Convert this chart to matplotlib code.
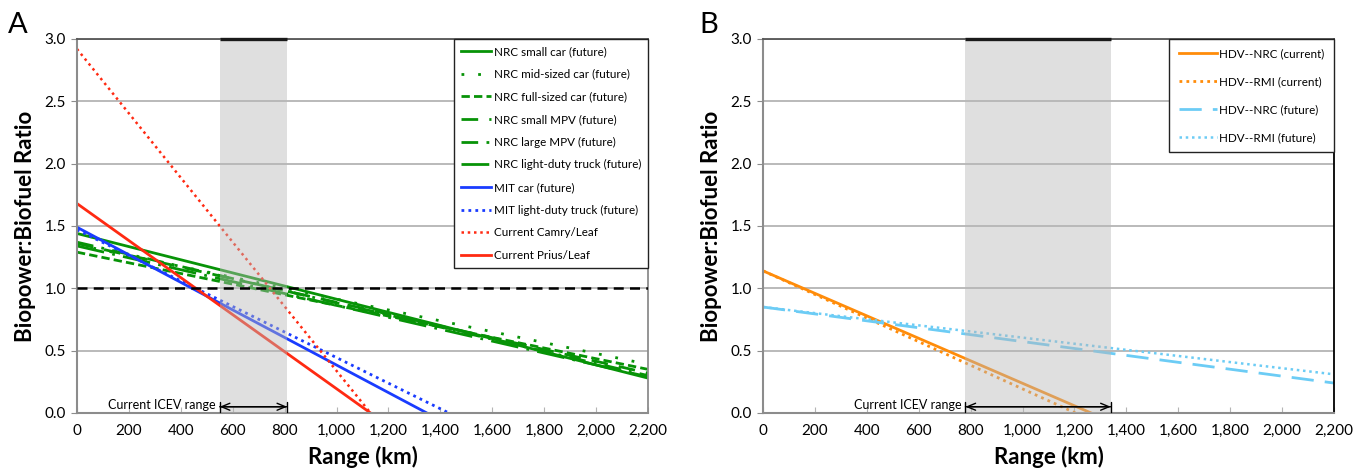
import matplotlib
matplotlib.use("Agg")
import matplotlib.pyplot as plt
from matplotlib.ticker import FuncFormatter, MultipleLocator

plt.rcParams['font.family'] = ['Lato', 'DejaVu Sans']

# Panel A: each line as (start, end) points
a_labels = ['NRC small car (future)', 'NRC mid-sized car (future)',
            'NRC full-sized car (future)', 'NRC small MPV (future)',
            'NRC large MPV (future)', 'NRC light-duty truck (future)',
            'MIT car (future)', 'MIT light-duty truck (future)',
            'Current Camry/Leaf', 'Current Prius/Leaf']
a_x = [[0, 2200], [0, 2200], [0, 2200], [0, 2200], [0, 2200], [0, 2200],
       [0, 1348], [0, 1433], [0, 1131], [0, 1131]]
a_y = [[1.44, 0.28], [1.35, 0.39], [1.29, 0.35], [1.36, 0.32],
       [1.37, 0.30], [1.34, 0.29], [1.49, 0.0], [1.47, 0.0],
       [2.92, 0.0], [1.68, 0.0]]

# Panel B
b_labels = ['HDV--NRC (current)', 'HDV--RMI (current)',
            'HDV--NRC (future)', 'HDV--RMI (future)']
b_x = [[0, 1264], [0, 1204], [0, 2200], [0, 2200]]
b_y = [[1.14, 0.0], [1.14, 0.0], [0.85, 0.24], [0.85, 0.31]]

# current ICEV range bands (km)
a_band = [550, 810]
b_band = [780, 1340]

green = '#079307'
blue = '#1a3cff'
red = '#ff2a12'
orange = '#ff8c0a'
lblue = '#6cccf5'

a_styles = [
    dict(color=green, ls='-', lw=2.0),
    dict(color=green, ls=(0, (1, 5)), lw=2.0),
    dict(color=green, ls=(0, (3, 1.5)), lw=2.0),
    dict(color=green, ls=(0, (6, 4)), lw=2.0),
    dict(color=green, ls=(0, (6, 3, 1, 3)), lw=2.0),
    dict(color=green, ls=(0, (10, 3, 1, 3)), lw=2.0),
    dict(color=blue, ls='-', lw=2.0),
    dict(color=blue, ls=(0, (1, 1.5)), lw=2.0),
    dict(color=red, ls=(0, (1, 1.5)), lw=1.8),
    dict(color=red, ls='-', lw=2.0),
]
b_styles = [
    dict(color=orange, ls='-', lw=2.0),
    dict(color=orange, ls=(0, (1, 1.5)), lw=2.0),
    dict(color=lblue, ls=(0, (8, 4)), lw=2.0),
    dict(color=lblue, ls=(0, (1, 1.5)), lw=1.8),
]

fig = plt.figure(figsize=(13.55, 4.76), dpi=100)
axA = fig.add_axes([0.0568, 0.1324, 0.4214, 0.7857])
axB = fig.add_axes([0.5631, 0.1324, 0.4214, 0.7857])


def style_axes(ax, right_color):
    ax.set_xlim(0, 2200)
    ax.set_ylim(0, 3.0)
    ax.xaxis.set_major_locator(MultipleLocator(200))
    ax.yaxis.set_major_locator(MultipleLocator(0.5))
    ax.xaxis.set_major_formatter(FuncFormatter(lambda v, p: f'{int(v):,}'))
    ax.yaxis.set_major_formatter(FuncFormatter(lambda v, p: f'{v:.1f}'))
    ax.grid(axis='y', color='#b4b4b4', lw=1.3)
    ax.set_axisbelow(True)
    for s in ['left', 'bottom']:
        ax.spines[s].set_color('#8c8c8c')
        ax.spines[s].set_linewidth(1.5)
    ax.spines['top'].set_color('#555555')
    ax.spines['top'].set_linewidth(1.3)
    ax.spines['right'].set_color(right_color)
    ax.spines['right'].set_linewidth(1.3)
    ax.tick_params(axis='x', direction='in', length=4, color='#b4b4b4',
                   labelsize=11, pad=8)
    ax.tick_params(axis='y', direction='out', length=4, color='#8c8c8c',
                   labelsize=11, pad=4)
    ax.set_xlabel('Range (km)', fontsize=16, fontweight='bold', labelpad=6)
    ax.set_ylabel('Biopower:Biofuel Ratio', fontsize=16, fontweight='bold',
                  labelpad=6)


def add_band(ax, band):
    ax.axvspan(band[0], band[1], color='#b8b8b8', alpha=0.45, lw=0, zorder=3)
    ax.plot(band, [3.0, 3.0], color='#1a1a1a', lw=2.4, zorder=4,
            clip_on=False, solid_capstyle='butt')
    ax.annotate('', xy=(band[1], 0.05), xytext=(band[0], 0.05),
                arrowprops=dict(arrowstyle='|-|,widthA=0.35,widthB=0.35',
                                color='black', lw=1.0,
                                shrinkA=0, shrinkB=0), zorder=5)
    ax.annotate('', xy=(band[1], 0.05), xytext=(band[0], 0.05),
                arrowprops=dict(arrowstyle='<->,head_width=0.25,head_length=0.6',
                                color='black', lw=1.0,
                                shrinkA=0, shrinkB=0), zorder=5)
    ax.text(band[0] - 15, 0.06, 'Current ICEV range', ha='right',
            va='center', fontsize=9, zorder=5)


style_axes(axA, '#8c8c8c')
for xs, ys, lab, st in zip(a_x, a_y, a_labels, a_styles):
    axA.plot(xs, ys, label=lab, zorder=2, **st)
axA.axhline(1.0, color='black', ls=(0, (4, 2.5)), lw=1.8, zorder=4)
add_band(axA, a_band)
legA = axA.legend(loc='upper right', fontsize=8.4, frameon=True, fancybox=False,
                  edgecolor='#222222', framealpha=1, labelspacing=1.0,
                  handlelength=2.6, handletextpad=0.2, borderpad=0.6,
                  borderaxespad=0)
legA.get_frame().set_linewidth(1.0)
legA.set_zorder(6)

style_axes(axB, 'black')
for xs, ys, lab, st in zip(b_x, b_y, b_labels, b_styles):
    axB.plot(xs, ys, label=lab, zorder=2, **st)
add_band(axB, b_band)
legB = axB.legend(loc='upper right', fontsize=8.4, frameon=True, fancybox=False,
                  edgecolor='#222222', framealpha=1, labelspacing=1.45,
                  handlelength=3.3, handletextpad=0.2, borderpad=0.8,
                  borderaxespad=0)
legB.get_frame().set_linewidth(1.0)
legB.set_zorder(6)

fig.text(0.006, 0.975, 'A', fontsize=21, va='top', ha='left')
fig.text(0.516, 0.975, 'B', fontsize=21, va='top', ha='left')

fig.savefig('out.png', dpi=100)
